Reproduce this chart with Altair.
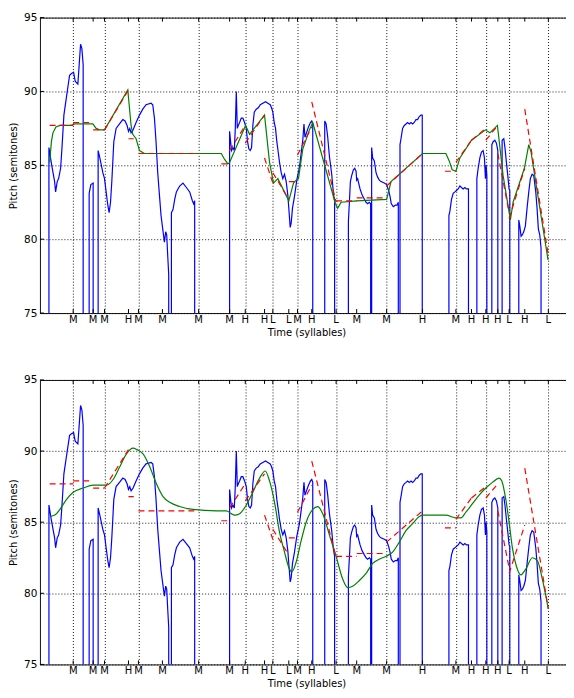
import altair as alt
import pandas as pd

# ---------------- data (time in 10 ms frames, pitch in semitones) ----------------
UNVOICED = 60.0  # unvoiced frames fall below the visible range

blue_time = [
    9.0, 11.3, 14.7, 15.7, 17.3, 18.7, 20.7, 22, 24, 26.3, 29.7, 31.3, 33.7, 35.3, 38, 39.3, 40.7, 42, 43.3, None,
    49.3, 51, 53.3, None,
    58.3, 60, 63, 64.7, 66.3, 68, 69.3, 70.7, 72, 74, 76.3, 79.7, 83, 85.3, 87.3, 88.7, 90, 91.3, 93.3, 96.3,
    99.7, 103, 106.3, 111.3, 113, 114.7, 116.3, 118, 119.7, 121.3, 123, 124.7, 126, 127, 128, 129, None,
    131.7, 133.3, 135, 136.7, 138.3, 140, 143.3, 146.7, 150, 152.7, 154, 155, None,
    190, 191, 192, 193.3, 194.7, 195.7, 196.7, 197.7, 198.7, 200, 201.7, 203.3, 205, 206.7, 208, 209.3, 210.7,
    212, 213.3, 214.7, 216.7, 218.7, 220.7, 223.3, 226, 228.3, 230.7, 232, 233.3, 234.7, 236, 237.3, 238.7,
    240, 241.7, 243.3, 245, 246.7, 248.3, 249.3, 250.7, 251.7, 253, 255, 257.3, 260, 263.3, 264.5, 265.5,
    267, 269, 271, 272.3, 273.3, None,
    285.3, 286.7, 288.3, 290, 292.3, 294, 295.2, None,
    309, 310, 311, 312.3, 314, 315.3, 316.7, 317.3, 318.3, 319.3, 320.7, 322.7, 325, 326.7, 328.3, 330, 331.3, None,
    332.3, 333.3, 335, 336.7, 338.3, 340, 341.7, 345, 347.3, 349.3, 350.7, 352, 354, 356, 357.7, 359, None,
    360.7, 361.7, 363.3, 365, 366.7, 368.3, 370, 371.7, 373.3, 375, 376.7, 378.3, 380, 381.7, 383, None,
    409.7, 410.7, 412.3, 414, 415.7, 417.3, 419, 420.7, 422.3, 424, 425.7, 427.3, 429.3, None,
    437.7, 439, 440.7, 442.3, 444, 445.3, 446.3, 447, 447.7, None,
    452.7, 454, 455.7, 457.3, 458.7, None,
    463, 464.7, 466, 467.3, 468.7, 470, 470.7, None,
    479.7, 480.7, 482, 483.3, 484.7, 486.3, 488, 489.7, 491.3, 493, 494.7, 496.7, 498, 499.3, 500.7, 502, None,
]
blue_pitch = [
    86.2, 85.2, 83.9, 83.2, 83.9, 84.1, 84.8, 86.1, 88.4, 89.5, 91.1, 91.2, 91.3, 90.7, 90.5, 91.8, 93.2, 92.9, 91.8, None,
    83.1, 83.7, 83.8, None,
    86.0, 85.5, 84.5, 84.1, 83.2, 82.3, 81.8, 82.5, 83.9, 86.6, 87.5, 87.8, 88.1, 88.0, 87.7, 87.3, 87.5, 87.2, 87.4, 87.9,
    88.4, 88.8, 89.1, 89.2, 89.1, 88.2, 86.6, 84.5, 83.0, 81.6, 80.7, 79.8, 80.5, 80.3, 78.9, 77.6, None,
    81.8, 82.0, 82.7, 83.2, 83.4, 83.6, 83.8, 83.5, 83.2, 82.6, 82.4, 82.6, None,
    87.3, 86.6, 86.0, 86.2, 86.0, 87.5, 90.0, 87.5, 87.7, 87.9, 88.2, 88.2, 87.9, 87.5, 86.6, 86.1, 86.0,
    86.2, 87.7, 88.6, 88.8, 88.9, 89.1, 89.2, 89.3, 89.2, 89.1, 88.9, 88.6, 87.9, 87.5, 86.6, 85.9,
    85.2, 84.5, 84.1, 84.4, 83.9, 83.0, 82.1, 80.8, 81.1, 82.1, 82.9, 84.0, 84.9, 86.7, 87.8, 86.9,
    87.2, 87.6, 87.9, 88.0, 87.8, None,
    88.0, 87.8, 86.9, 85.6, 84.4, 83.1, 82.6, None,
    81.2, 82.5, 83.9, 84.3, 84.7, 84.8, 84.6, 84.0, 84.1, 83.8, 83.4, 83.0, 82.7, 82.5, 82.4, 82.5, 82.4, None,
    86.2, 85.5, 85.3, 84.5, 84.2, 84.0, 83.9, 83.8, 83.7, 83.3, 82.9, 82.4, 82.2, 82.3, 82.3, 82.5, None,
    86.4, 86.8, 87.5, 87.7, 87.8, 87.9, 87.8, 87.9, 87.8, 87.9, 88.1, 88.1, 88.3, 88.4, 88.4, None,
    81.6, 81.9, 82.7, 83.1, 83.2, 83.3, 83.4, 83.6, 83.5, 83.4, 83.5, 83.4, 83.4, None,
    84.1, 84.8, 85.5, 85.9, 86.0, 85.5, 84.1, 85.0, 84.3, None,
    86.4, 86.6, 86.7, 86.5, 86.0, None,
    86.7, 86.8, 86.1, 85.2, 84.3, 83.4, 83.3, None,
    81.3, 80.9, 80.2, 80.3, 80.5, 80.9, 82.1, 83.2, 84.1, 84.4, 84.3, 83.2, 82.1, 80.7, 80.3, 79.4, None,
]

# target (red dashed) segments
red_t0 = [9.7, 33.3, 53.3, 64.7, 88.7, 98.7, 181.7, 190, 205.7, 225, 233.3, 249.3, 258, 272.3, 296.7, 317.3,
          347.3, 405.7, 416.7, 432.3, 446.7, 458.7, 470, 485.7]
red_p0 = [87.7, 87.9, 87.4, 87.4, 86.8, 85.8, 85.1, 86.0, 86.5, 85.5, 84.5, 83.9, 85.7, 89.3, 82.6, 82.8,
          83.6, 84.6, 85.2, 86.7, 86.7, 85.8, 81.4, 88.8]
red_t1 = [33.3, 53.3, 64.7, 88.7, 94, 159, 190, 205.7, 225, 233.3, 249.3, 258, 272.3, 296.7, 317.3, 347.3,
          383.3, 416.7, 432.3, 446.7, 458.7, 470, 485.7, 509.3]
red_p1 = [87.7, 87.9, 87.4, 90.1, 86.8, 85.8, 85.1, 87.7, 88.4, 83.8, 82.7, 83.9, 87.6, 82.5, 82.6, 82.8,
          85.8, 84.6, 86.7, 87.5, 87.7, 81.8, 84.8, 78.9]

# smoothed contour, upper panel
green_top_time = [9.7, 11.5, 13, 16, 20, 31.3, 34.7, 53, 56.3, 59.7, 64.7, 88, 91.3, 93, 96.3, 98, 99.7, 104.7,
                  181.7, 185, 188.3, 190, 206, 210, 225, 230, 234, 238.3, 249.3, 251.7, 254, 256.7, 259, 263.3,
                  270, 273.3, 296, 298.3, 301.7, 317.3, 347.3, 351.7, 383.3, 406.7, 410, 413, 416.7, 420.7,
                  432.3, 446.3, 450.7, 458.3, 464, 471.3, 474, 485.3, 489.7, 492, 497.3, 509]
green_top_pitch = [85.2, 86.6, 87.2, 87.6, 87.7, 87.7, 87.8, 87.8, 87.5, 87.4, 87.4, 90.1, 87.7, 87.1, 86.8, 86.4,
                   86.0, 85.8, 85.8, 85.4, 85.1, 85.2, 87.7, 87.1, 88.4, 85.2, 83.8, 84.1, 82.6, 83.2, 83.8,
                   84.0, 84.1, 86.1, 87.4, 87.9, 82.4, 82.1, 82.5, 82.6, 82.7, 83.9, 85.8, 85.8, 85.3, 84.7,
                   84.6, 85.5, 86.7, 87.4, 87.2, 87.7, 84.3, 81.3, 82.5, 84.8, 86.4, 85.9, 83.6, 78.6]

# smoothed contour, lower panel
green_bot_time = [10, 15, 20, 26.7, 33.3, 43.3, 53.3, 60, 66.7, 73.3, 80, 86.7, 93.3, 97.3, 103.3, 110, 116.7,
                  123.3, 130, 140, 153.3, 176.7, 186.7, 191.7, 195, 200, 206.7, 213.3, 220, 225.7, 230, 235,
                  240, 245, 250, 252.3, 256.7, 261.7, 266.7, 273.3, 278.3, 283.3, 290, 296.7, 303.3, 308.3,
                  313.3, 320, 326.7, 333.3, 340, 346.7, 353.3, 360, 366.7, 373.3, 380, 383.3, 406.7, 416.7,
                  421.7, 426.7, 433.3, 440, 446.7, 453.3, 460, 462.7, 466.7, 470, 473.3, 477.3, 481.7, 486.7,
                  493.3, 498.3, 503.3, 509.3]
green_bot_pitch = [85.4, 85.5, 85.9, 86.6, 87.1, 87.4, 87.6, 87.6, 87.6, 88.0, 88.9, 89.8, 90.2, 90.1, 89.8,
                   88.9, 87.7, 86.8, 86.4, 86.1, 85.9, 85.8, 85.8, 85.6, 85.5, 85.6, 86.2, 87.1, 88.1, 88.6,
                   87.9, 86.4, 84.3, 82.9, 81.7, 81.5, 82.2, 83.7, 85.0, 85.9, 86.1, 85.6, 84.1, 82.6, 81.0,
                   80.4, 80.5, 80.9, 81.4, 82.1, 82.4, 82.6, 82.9, 83.6, 84.4, 84.9, 85.4, 85.5, 85.5, 85.3,
                   85.3, 85.7, 86.3, 86.9, 87.4, 87.8, 88.1, 87.9, 86.6, 85.0, 83.2, 81.9, 81.3, 81.7, 82.5,
                   82.3, 81.0, 78.9]

# syllable positions and tone labels
tick_time = [33.3, 53.3, 64.7, 88.7, 98.7, 122.7, 159, 190, 205.7, 225, 233.3, 249.3, 258, 272.3, 296.7,
             317.3, 347.3, 383.3, 416.7, 432.3, 446.7, 458.7, 470, 485.7, 509.3]
tick_label = ["M", "M", "M", "H", "M", "M", "M", "M", "H", "H", "L", "L", "M", "H", "L",
              "M", "M", "H", "M", "H", "H", "H", "L", "H", "L"]
pitch_ticks = [75, 80, 85, 90, 95]

# ---------------- build tables ----------------
rows = []
seg_start = True
for t, p in zip(blue_time, blue_pitch):
    if t is None:
        rows.append({"t": rows[-1]["t"], "p": UNVOICED})
        seg_start = True
        continue
    if seg_start:
        rows.append({"t": t, "p": UNVOICED})
        seg_start = False
    rows.append({"t": t, "p": p})
blue_df = pd.DataFrame(rows)
blue_df["order"] = range(len(blue_df))

red_df = pd.DataFrame({"t0": red_t0, "p0": red_p0, "t1": red_t1, "p1": red_p1})
gtop_df = pd.DataFrame({"t": green_top_time, "p": green_top_pitch})
gbot_df = pd.DataFrame({"t": green_bot_time, "p": green_bot_pitch})
tick_df = pd.DataFrame({"t": tick_time, "label": tick_label})
ptick_df = pd.DataFrame({"p": pitch_ticks})

W = 534
xdom = [0, 534]
ydom = [75, 95]

xscale = alt.Scale(domain=xdom, nice=False, zero=False)
yscale = alt.Scale(domain=ydom, nice=False, zero=False)
xaxis = alt.Axis(values=tick_time, labels=False, title="Time (syllables)", titlePadding=14)
yaxis = alt.Axis(values=pitch_ticks, title="Pitch (semitones)", labelPadding=3, titlePadding=5,
                 labelFontSize=10.5)


def panel(green_df, interp, H):
    base_blue = alt.Chart(blue_df).mark_line(color="#0000ff", strokeWidth=1.2, clip=True).encode(
        x=alt.X("t:Q", scale=xscale, axis=xaxis),
        y=alt.Y("p:Q", scale=yscale, axis=yaxis),
        order="order:Q",
    )
    green = alt.Chart(green_df).mark_line(color="#008000", strokeWidth=1.2, clip=True,
                                          interpolate=interp).encode(
        x=alt.X("t:Q", scale=xscale), y=alt.Y("p:Q", scale=yscale))
    red = alt.Chart(red_df).mark_rule(color="#ff0000", strokeWidth=1.2, strokeDash=[6, 4], clip=True).encode(
        x=alt.X("t0:Q", scale=xscale), y=alt.Y("p0:Q", scale=yscale),
        x2="t1:Q", y2="p1:Q")
    tb = alt.Chart(tick_df).mark_rule(color="black", strokeWidth=1).encode(
        x=alt.X("t:Q", scale=xscale), y=alt.value(H), y2=alt.value(H - 4))
    tt = alt.Chart(tick_df).mark_rule(color="black", strokeWidth=1).encode(
        x=alt.X("t:Q", scale=xscale), y=alt.value(0), y2=alt.value(4))
    tl = alt.Chart(ptick_df).mark_rule(color="black", strokeWidth=1).encode(
        y=alt.Y("p:Q", scale=yscale), x=alt.value(0), x2=alt.value(4))
    tr = alt.Chart(ptick_df).mark_rule(color="black", strokeWidth=1).encode(
        y=alt.Y("p:Q", scale=yscale), x=alt.value(W), x2=alt.value(W - 4))
    lab = alt.Chart(tick_df).mark_text(font="DejaVu Sans", fontSize=10, color="black", align="center",
                                       baseline="top").encode(
        x=alt.X("t:Q", scale=xscale), y=alt.value(H + 2), text="label:N")
    return alt.layer(base_blue, green, red, tb, tt, tl, tr, lab).properties(width=W, height=H)


chart = alt.vconcat(panel(gtop_df, "linear", 296), panel(gbot_df, "monotone", 285), spacing=36).properties(
    padding={"left": 0, "top": 3, "right": -8, "bottom": 0}
).configure_view(stroke="#111111", strokeWidth=1).configure_axis(
    labelFont="DejaVu Sans", titleFont="DejaVu Sans", titleFontSize=10,
    titleFontWeight="normal", labelColor="black", titleColor="black",
    grid=True, gridColor="black", gridDash=[1, 2], gridOpacity=0.9, gridWidth=1,
    domain=False, ticks=False,
)

chart.save("out.html", embed_options={"renderer": "svg", "actions": False})
